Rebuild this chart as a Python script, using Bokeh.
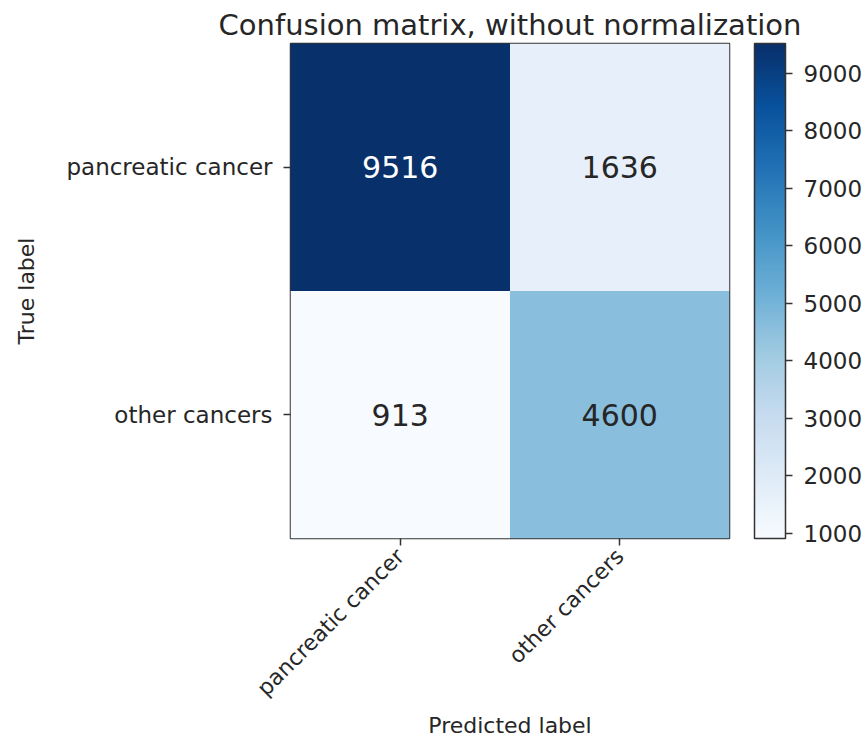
from bokeh.plotting import figure
from bokeh.models import (ColumnDataSource, FactorRange, LinearColorMapper,
                          ColorBar, FixedTicker)
from bokeh.palettes import Blues256
from bokeh.embed import file_html
from bokeh.resources import INLINE
from math import pi

# Class names (rows = true label, columns = predicted label)
classes = ["pancreatic cancer", "other cancers"]

# Confusion matrix counts, one list per true class
row_pancreatic = [9516, 1636]
row_other = [913, 4600]

# Colour bar tick values
cbar_ticks = [1000, 2000, 3000, 4000, 5000, 6000, 7000, 8000, 9000]

FONT = "DejaVu Sans"
INK = "#262626"

matrix = [row_pancreatic, row_other]
all_vals = row_pancreatic + row_other
vmin, vmax = min(all_vals), max(all_vals)
thresh = vmax / 2.0

xs, ys, vals, txt, txt_col = [], [], [], [], []
for i, true_cls in enumerate(classes):
    for j, pred_cls in enumerate(classes):
        v = matrix[i][j]
        xs.append(pred_cls)
        ys.append(true_cls)
        vals.append(v)
        txt.append(str(v))
        txt_col.append("white" if v > thresh else INK)

src = ColumnDataSource(dict(x=xs, y=ys, value=vals, label=txt, tcol=txt_col))

mapper = LinearColorMapper(palette=list(reversed(Blues256)), low=vmin, high=vmax)

p = figure(width=865, height=740,
           x_range=FactorRange(*classes),
           y_range=FactorRange(*reversed(classes)),
           output_backend="svg", toolbar_location=None,
           min_border_left=290, min_border_right=135,
           min_border_top=43, min_border_bottom=202,
           title="Confusion matrix, without normalization")

p.rect(x="x", y="y", width=1, height=1, source=src,
       fill_color={"field": "value", "transform": mapper}, line_color=None)

p.text(x="x", y="y", text="label", source=src, text_color="tcol",
       text_align="center", text_baseline="middle",
       text_font_size="30px", text_font={"value": FONT})

# Title
p.title.align = "center"
p.title.vertical_align = "top"
p.title.text_font = FONT
p.title.text_font_size = "29px"
p.title.text_font_style = "normal"
p.title.text_color = INK
p.title.standoff = 0

# Frame and axes
p.outline_line_color = "#333333"
p.outline_line_width = 1.5
p.grid.grid_line_color = None

for ax in (p.xaxis[0], p.yaxis[0]):
    ax.axis_line_color = None
    ax.major_tick_line_color = "#333333"
    ax.major_tick_line_width = 1.5
    ax.major_tick_out = 7
    ax.major_tick_in = 0
    ax.major_label_text_font = FONT
    ax.major_label_text_color = INK
    ax.axis_label_text_font = FONT
    ax.axis_label_text_font_size = "22px"
    ax.axis_label_text_font_style = "normal"
    ax.axis_label_text_color = INK

p.xaxis.axis_label = "Predicted label"
p.xaxis.major_label_orientation = pi / 4
p.xaxis.major_label_text_font_size = "22px"
p.xaxis.major_label_standoff = 7
p.xaxis.axis_label_standoff = 0

p.yaxis.axis_label = "True label"
p.yaxis.major_label_text_font_size = "23px"
p.yaxis.major_label_standoff = 11
p.yaxis.axis_label_standoff = 24

cbar = ColorBar(color_mapper=mapper, ticker=FixedTicker(ticks=cbar_ticks),
                width=31, height=495, padding=0, margin=0,
                location=(25, 0),
                bar_line_color="#333333", bar_line_width=1.5,
                major_tick_line_color="#333333", major_tick_line_width=1.5,
                major_tick_out=7, major_tick_in=0,
                minor_tick_line_color=None,
                label_standoff=11,
                major_label_text_font=FONT,
                major_label_text_font_size="23px",
                major_label_text_color=INK,
                border_line_color=None, background_fill_color=None)
p.add_layout(cbar, "right")

open("out.html", "w").write(file_html(p, INLINE))
